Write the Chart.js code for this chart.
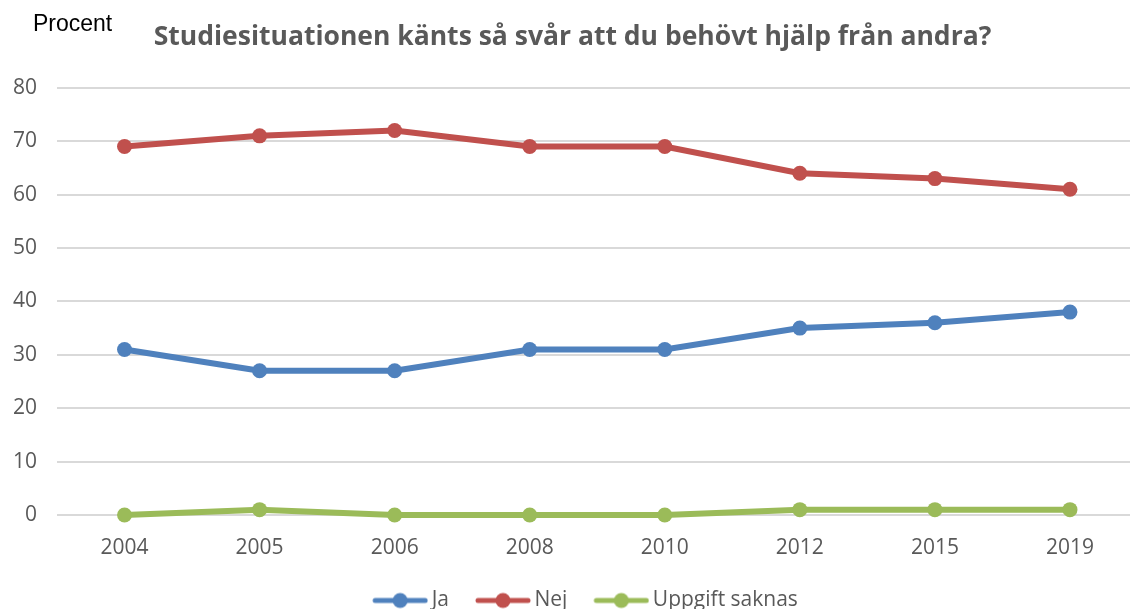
<!DOCTYPE html>
<html>
<head>
<meta charset="utf-8">
<script src="https://cdn.jsdelivr.net/npm/chart.js@4"></script>
<style>
  html, body { margin: 0; padding: 0; background: #fff; overflow: hidden; }
  #wrap { position: absolute; left: 0; top: 0; width: 1145px; height: 609px; }
</style>
</head>
<body>
<div id="wrap"><canvas id="chart"></canvas></div>
<script>
const years = ["2004", "2005", "2006", "2008", "2010", "2012", "2015", "2019"];
const ja = [31, 27, 27, 31, 31, 35, 36, 38];
const nej = [69, 71, 72, 69, 69, 64, 63, 61];
const saknas = [0, 1, 0, 0, 0, 1, 1, 1];
const yTicks = [0, 10, 20, 30, 40, 50, 60, 70, 80];

const BLUE = "#4f81bd";
const RED = "#c0504d";
const GREEN = "#9bbb59";
const GREY = "#595959";
const FONT = "'Open Sans', 'DejaVu Sans', sans-serif";

// legend box is wider than the marker; the marker sits at its right end
// so it ends just before the label text
const MARK_BOX = 74;
const MARK_LEN = 56;

function legendMarker(color) {
  const w = MARK_BOX + 14;
  const c = document.createElement("canvas");
  c.width = w;
  c.height = 18;
  const g = c.getContext("2d");
  const x0 = w - MARK_LEN;
  g.strokeStyle = color;
  g.lineWidth = 5;
  g.lineCap = "round";
  g.beginPath();
  g.moveTo(x0 + 3, 9);
  g.lineTo(w - 3, 9);
  g.stroke();
  g.fillStyle = color;
  g.beginPath();
  g.arc(x0 + MARK_LEN / 2, 9, 7.5, 0, Math.PI * 2);
  g.fill();
  return c;
}

function series(label, data, color) {
  return {
    label: label,
    data: data,
    borderColor: color,
    backgroundColor: color,
    borderWidth: 6,
    pointRadius: 7.5,
    pointHoverRadius: 7.5,
    pointBackgroundColor: color,
    pointBorderWidth: 0,
    pointStyle: "circle",
    tension: 0,
    clip: false,
    marker: legendMarker(color),
  };
}

// "Procent" label in the top-left corner
const cornerLabel = {
  id: "cornerLabel",
  afterDraw(chart) {
    const ctx = chart.ctx;
    ctx.save();
    ctx.font = "23px 'Liberation Sans', Arial, sans-serif";
    ctx.fillStyle = "#000";
    ctx.textBaseline = "alphabetic";
    ctx.fillText("Procent", 33, 31);
    ctx.restore();
  },
};

new Chart(document.getElementById("chart"), {
  type: "line",
  data: {
    labels: years,
    datasets: [
      series("Ja", ja, BLUE),
      series("Nej", nej, RED),
      series("Uppgift saknas", saknas, GREEN),
    ],
  },
  plugins: [cornerLabel],
  options: {
    responsive: true,
    maintainAspectRatio: false,
    animation: false,
    layout: { padding: { top: 0, left: 0, right: 0, bottom: -12 } },
    plugins: {
      title: {
        display: true,
        text: "Studiesituationen känts så svår att du behövt hjälp från andra?",
        color: GREY,
        font: { family: FONT, size: 26.5, weight: "bold" },
        padding: { top: 22, bottom: 34 },
      },
      legend: {
        position: "bottom",
        labels: {
          color: GREY,
          font: { family: FONT, size: 21 },
          usePointStyle: true,
          pointStyleWidth: MARK_BOX,
          padding: 1,
          generateLabels(chart) {
            return chart.data.datasets.map((ds, i) => ({
              text: ds.label,
              fontColor: GREY,
              pointStyle: ds.marker,
              lineWidth: 0,
              strokeStyle: ds.borderColor,
              fillStyle: ds.borderColor,
              datasetIndex: i,
              hidden: false,
            }));
          },
        },
      },
      tooltip: { enabled: false },
    },
    scales: {
      x: {
        offset: true,
        grid: { display: false },
        border: { display: false },
        ticks: { color: GREY, font: { family: FONT, size: 21 }, padding: 12 },
        afterFit(scale) {
          scale.height = 74;
        },
      },
      y: {
        min: 0,
        max: 80,
        afterBuildTicks(scale) {
          scale.ticks = yTicks.map((v) => ({ value: v }));
        },
        afterFit(scale) {
          scale.width = 57;
        },
        grid: { color: "#d9d9d9", lineWidth: 2, drawTicks: false },
        border: { display: false },
        ticks: { color: GREY, font: { family: FONT, size: 21 }, padding: 20 },
      },
    },
  },
});
</script>
</body>
</html>
